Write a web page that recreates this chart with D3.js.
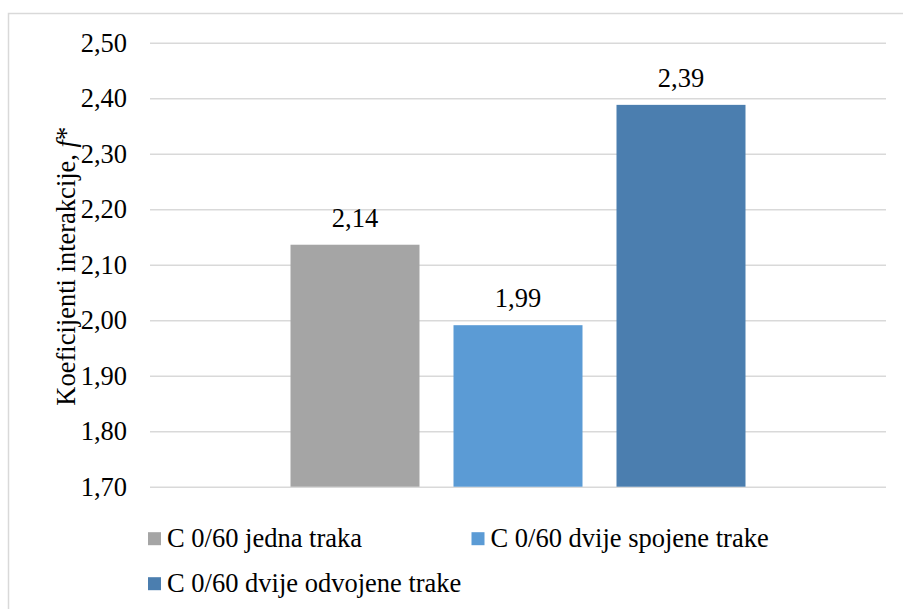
<!DOCTYPE html>
<html>
<head>
<meta charset="utf-8">
<script src="https://cdn.jsdelivr.net/npm/d3@7"></script>
</head>
<body style="margin:0;background:#fff">
<svg id="chart" width="903" height="609" style="display:block"></svg>
<script>
const series = ["C 0/60 jedna traka", "C 0/60 dvije spojene trake", "C 0/60 dvije odvojene trake"];
const values = [2.136, 1.991, 2.388];
const colors = ["#a5a5a5", "#5b9bd5", "#4b7eaf"];
const yTicks = [1.70, 1.80, 1.90, 2.00, 2.10, 2.20, 2.30, 2.40, 2.50];
const yTitle = "Koeficijenti interakcije, ";
const yTitleItalic = "f";
const yTitleStar = "*";

const FONT = "Liberation Serif";
const FS = 26.5;
const svg = d3.select("#chart").attr("font-family", FONT).attr("font-size", FS);
const fmt = v => d3.format(".2f")(v).replace(".", ",");
const styleText = sel => sel.attr("font-family", FONT).attr("font-size", FS).attr("fill", "#000")
  .style("font-family", "'Liberation Serif'");

// outer border (only left/top visible)
svg.append("rect").attr("x", 8.5).attr("y", 13.5).attr("width", 1000).attr("height", 1000)
  .attr("fill", "none").attr("stroke", "#d9d9d9").attr("stroke-width", 1.5);

const plot = { left: 150, right: 886, top: 42.7, bottom: 486.7 };

const y = d3.scaleLinear().domain([1.7, 2.5]).range([plot.bottom, plot.top]);
const x = d3.scaleBand().domain(series).range([plot.left, plot.right])
  .paddingInner(0.2086).paddingOuter(0.862);

// gridlines + tick labels
const yAxis = d3.axisLeft(y).tickValues(yTicks).tickSize(-(plot.right - plot.left)).tickFormat(fmt).tickPadding(23);
const gAxis = svg.append("g").attr("transform", `translate(${plot.left},0)`).call(yAxis)
  .attr("font-family", FONT).attr("font-size", FS);
gAxis.select(".domain").remove();
gAxis.selectAll(".tick line").attr("stroke", "#d9d9d9").attr("stroke-width", 1.5);
const tickTexts = styleText(gAxis.selectAll(".tick text"));
tickTexts.each(function () {
  const s = d3.select(this);
  const label = s.text();
  s.text(null);
  styleText(s.append("tspan")).text(label);
});

// bars
svg.append("g").selectAll("rect").data(series).join("rect")
  .attr("x", d => x(d))
  .attr("width", x.bandwidth())
  .attr("y", (d, i) => y(values[i]))
  .attr("height", (d, i) => y(1.7) - y(values[i]))
  .attr("fill", (d, i) => colors[i]);

// data labels
const dl = styleText(svg.append("g").attr("font-family", FONT).attr("font-size", FS)
  .selectAll("text").data(series).join("text")
  .attr("x", d => x(d) + x.bandwidth() / 2)
  .attr("y", (d, i) => y(values[i]) - 18)
  .attr("text-anchor", "middle"));
styleText(dl.append("tspan")).text((d, i) => fmt(values[i]));

// y title
const t = styleText(svg.append("text")
  .attr("transform", `translate(75,${(plot.top + plot.bottom) / 2 + 1.5}) rotate(-90)`)
  .attr("text-anchor", "middle"));
t.append("tspan").text(yTitle);
t.append("tspan").attr("font-style", "italic").text(yTitleItalic);
t.append("tspan").text(yTitleStar);

// legend
const legendPos = [[148, 546.7], [471.5, 546.7], [148, 591.7]];
const lg = svg.append("g").selectAll("g").data(series).join("g")
  .attr("transform", (d, i) => `translate(${legendPos[i][0]},${legendPos[i][1]})`);
lg.append("rect").attr("x", 0).attr("y", -14.5).attr("width", 13).attr("height", 13)
  .attr("fill", (d, i) => colors[i]);
styleText(lg.append("text").attr("x", 19).attr("y", 0).text(d => d));
</script>
</body>
</html>
